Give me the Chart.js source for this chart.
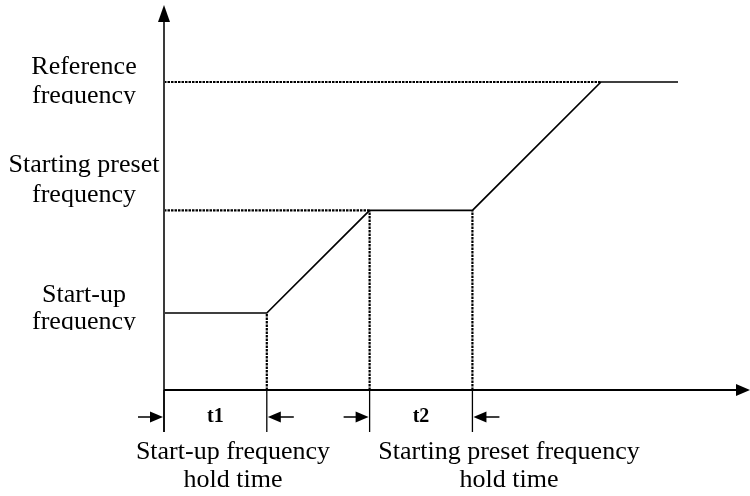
<!DOCTYPE html>
<html>
<head>
<meta charset="utf-8">
<script src="https://cdn.jsdelivr.net/npm/chart.js@4"></script>
<style>
  html, body { margin: 0; padding: 0; background: #fff; }
  #wrap { width: 750px; height: 496px; }
</style>
</head>
<body>
<div id="wrap"><canvas id="freqChart" width="750" height="496"></canvas></div>
<script>
// time axis (arbitrary units) and frequency profile
const timePoints = [0, 1, 2, 3, 4.25, 5];
const freqValues = [0.75, 0.75, 1.75, 1.75, 3, 3];

// the three frequency levels named on the left
const levelValues = [0.75, 1.75, 3];
const levelLabels = [['Start-up', 'frequency'], ['Starting preset', 'frequency'], ['Reference', 'frequency']];
const levelReach = [1, 2, 4.25]; // where each dotted guide ends

// hold time spans under the axis
const holdStart = [0, 2];
const holdEnd = [1, 3];
const holdNames = ['t1', 't2'];
const holdCaptions = [['Start-up frequency', 'hold time'], ['Starting preset frequency', 'hold time']];

const xMax = 5.7;
const yMax = 3.75;

const serif = '"Liberation Serif", "Times New Roman", serif';

// dotted guides: horizontal from the y axis to the level, vertical down to the time axis
let guides = [];
for (let i = 1; i < levelValues.length; i++) {
    guides.push([{x: 0, y: levelValues[i]}, {x: levelReach[i], y: levelValues[i]}]);
}
guides.push([{x: holdEnd[0], y: 0}, {x: holdEnd[0], y: levelValues[0]}]);
guides.push([{x: holdStart[1], y: 0}, {x: holdStart[1], y: levelValues[1]}]);
guides.push([{x: holdEnd[1], y: 0}, {x: holdEnd[1], y: levelValues[1]}]);

let datasets = guides.map(g => ({
    data: g,
    showLine: true,
    borderColor: '#000',
    borderWidth: 2.2,
    borderDash: [2.5, 1],
    pointRadius: 0
}));
datasets.push({
    data: timePoints.map((t, i) => ({x: t, y: freqValues[i]})),
    showLine: true,
    borderColor: '#000',
    borderWidth: 1.7,
    pointRadius: 0
});

function arrowHead(ctx, tipX, tipY, dir, len, half) {
    // dir: 'up', 'right', 'left'
    ctx.beginPath();
    ctx.moveTo(tipX, tipY);
    if (dir == 'up') {
        ctx.lineTo(tipX - half, tipY + len);
        ctx.lineTo(tipX + half, tipY + len);
    } else if (dir == 'right') {
        ctx.lineTo(tipX - len, tipY - half);
        ctx.lineTo(tipX - len, tipY + half);
    } else {
        ctx.lineTo(tipX + len, tipY - half);
        ctx.lineTo(tipX + len, tipY + half);
    }
    ctx.closePath();
    ctx.fill();
}

const diagramPlugin = {
    id: 'diagram',
    afterDatasetsDraw(chart) {
        const ctx = chart.ctx;
        const xs = chart.scales.x;
        const ys = chart.scales.y;
        const x0 = xs.getPixelForValue(0);
        const y0 = ys.getPixelForValue(0);
        const dimY = y0 + 27;
        const tickBottom = y0 + 42;

        ctx.save();
        // y axis (runs down past the time axis as the first dimension mark)
        ctx.strokeStyle = '#3a3a3a';
        ctx.fillStyle = '#000';
        ctx.lineWidth = 2;
        ctx.beginPath();
        ctx.moveTo(x0, ys.getPixelForValue(yMax) + 12);
        ctx.lineTo(x0, tickBottom);
        ctx.stroke();
        arrowHead(ctx, x0, ys.getPixelForValue(yMax), 'up', 17, 6);

        // x axis
        ctx.strokeStyle = '#000';
        ctx.beginPath();
        ctx.moveTo(x0, y0);
        ctx.lineTo(xs.getPixelForValue(xMax) - 8, y0);
        ctx.stroke();
        arrowHead(ctx, xs.getPixelForValue(xMax), y0, 'right', 14, 6);

        // dimension marks below the time axis
        for (let i = 0; i < holdStart.length; i++) {
            const a = xs.getPixelForValue(holdStart[i]);
            const b = xs.getPixelForValue(holdEnd[i]);
            ctx.lineWidth = 1.3;
            [a, b].forEach(px => {
                ctx.beginPath();
                ctx.moveTo(px, y0);
                ctx.lineTo(px, tickBottom);
                ctx.stroke();
            });
            ctx.lineWidth = 1.6;
            ctx.beginPath();
            ctx.moveTo(a - 26, dimY);
            ctx.lineTo(a - 8, dimY);
            ctx.moveTo(b + 27, dimY);
            ctx.lineTo(b + 8, dimY);
            ctx.stroke();
            arrowHead(ctx, a - 1, dimY, 'right', 13, 5.5);
            arrowHead(ctx, b + 1, dimY, 'left', 13, 5.5);

            ctx.font = 'bold 20px ' + serif;
            ctx.textAlign = 'center';
            ctx.textBaseline = 'middle';
            ctx.fillText(holdNames[i], (a + b) / 2, dimY);
        }

        // captions under the dimension marks
        const captionX = [233, 509];
        ctx.font = '26px ' + serif;
        ctx.textAlign = 'center';
        ctx.textBaseline = 'alphabetic';
        holdCaptions.forEach((lines, i) => {
            ctx.fillText(lines[0], captionX[i], 459);
            ctx.fillText(lines[1], captionX[i], 487);
        });

        // level names on the left; the lower line of two of them is cut off at the baseline
        const baselines = [[302, 329], [172, 202], [74, 103]];
        const clipped = [true, false, true];
        levelLabels.forEach((lines, i) => {
            ctx.fillText(lines[0], 84, baselines[i][0]);
            ctx.save();
            if (clipped[i]) {
                ctx.beginPath();
                ctx.rect(0, baselines[i][1] - 30, 160, 31);
                ctx.clip();
            }
            ctx.fillText(lines[1], 84, baselines[i][1]);
            ctx.restore();
        });
        ctx.restore();
    }
};

new Chart(document.getElementById('freqChart'), {
    type: 'scatter',
    data: { datasets: datasets },
    options: {
        responsive: false,
        animation: false,
        layout: { padding: { left: 164, right: 0, top: 5, bottom: 106 } },
        scales: {
            x: { type: 'linear', min: 0, max: xMax, display: false },
            y: { type: 'linear', min: 0, max: yMax, display: false }
        },
        plugins: {
            legend: { display: false },
            tooltip: { enabled: false }
        }
    },
    plugins: [diagramPlugin]
});
</script>
</body>
</html>
